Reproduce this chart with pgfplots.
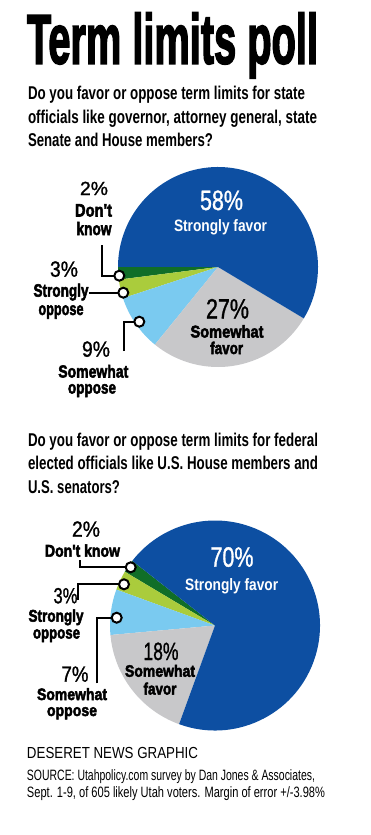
\documentclass[border=0pt]{standalone}
\usepackage{fontspec}
\setmainfont{Liberation Sans}
\newfontfamily\heavy[BoldFeatures={FakeBold=3}]{Liberation Sans}
\newfontfamily\med[FakeBold=1.2]{Liberation Sans}
\usepackage{graphicx}
\usepackage{pgfplots}
\usepackage{pgfplotstable}
\pgfplotsset{compat=1.18}

\definecolor{pieblue}{RGB}{13,79,162}
\definecolor{dkgreen}{RGB}{16,110,40}
\definecolor{ltgreen}{RGB}{170,204,60}
\definecolor{ltblue}{RGB}{122,202,240}
\definecolor{grayc}{RGB}{200,200,202}

% slices counter-clockwise, starting at the given angle
\pgfplotstableread{
pct col
2 dkgreen
3 ltgreen
9 ltblue
27 grayc
58 pieblue
}\pieA
\pgfplotstableread{
pct col
2 dkgreen
3 ltgreen
7 ltblue
18 grayc
70 pieblue
}\pieB

% builds (outside the axis) the list of slice commands in axis cs
\newcommand\buildpie[6]{% result macro, table, cx, cy, r, start angle
  \gdef#1{}%
  \pgfplotstablegetrowsof{#2}\pgfmathtruncatemacro\nr{\pgfplotsretval-1}%
  \def\tot{0}%
  \pgfplotsforeachungrouped \i in {0,...,\nr}{%
    \pgfplotstablegetelem{\i}{pct}\of#2%
    \pgfmathsetmacro\tot{\tot+\pgfplotsretval}}%
  \def\cur{#6}%
  \pgfplotsforeachungrouped \i in {0,...,\nr}{%
    \pgfplotstablegetelem{\i}{pct}\of#2\let\pval\pgfplotsretval
    \pgfplotstablegetelem{\i}{col}\of#2\let\pcol\pgfplotsretval
    \pgfmathsetmacro\nxt{\cur+\pval/\tot*360}%
    \xdef#1{\unexpanded\expandafter{#1}\noexpand\fill[\pcol] (axis cs:#3,#4) -- ++(\cur:#5pt) arc[start angle=\cur, end angle=\nxt, radius=#5pt] -- cycle;}%
    \let\cur\nxt}%
}
\buildpie{\pieAcmd}{\pieA}{218}{267}{100}{180}
\buildpie{\pieBcmd}{\pieB}{215}{625.5}{105}{142}

\newcommand\T[5]{\node[inner sep=0pt,outer sep=0pt,anchor=#3] at (axis cs:#1,#2) {\resizebox{#4}{\height}{#5}};}
\newcommand\fQ{\fontsize{18.5}{20}\selectfont\bfseries}
\newcommand\fH[1]{\heavy\bfseries\fontsize{#1}{#1}\selectfont}
\newcommand\fB[1]{\bfseries\fontsize{#1}{#1}\selectfont}
\newcommand\fM[1]{\med\mdseries\fontsize{#1}{#1}\selectfont}
\newcommand\fR[1]{\mdseries\fontsize{#1}{#1}\selectfont}
\newcommand\leader[3]{% path, circle x, circle y
  \draw[line width=2pt] #1;
  \draw[line width=2pt,fill=white] (axis cs:#2,#3) circle[radius=5pt];}

\begin{document}
\begin{tikzpicture}
\begin{axis}[width=370pt,height=835pt,scale only axis,
  xmin=0,xmax=370,ymin=0,ymax=835,y dir=reverse,hide axis,clip=false]
\path (rel axis cs:0,0) rectangle (rel axis cs:1,1);

% title and question 1
\T{27}{63.5}{base west}{291pt}{\fH{70}Term limits poll}
\T{28}{99.5}{base west}{277pt}{\fQ Do you favor or oppose term limits for state}
\T{28}{123}{base west}{289pt}{\fQ officials like governor, attorney general, state}
\T{28}{146.5}{base west}{185pt}{\fQ Senate and House members?}

% pie 1
\pieAcmd
\T{221.5}{210}{base}{43pt}{\color{white}\fM{28}58\%}
\T{220.5}{231}{base}{93pt}{\color{white}\fB{16.5}Strongly favor}
\T{227.5}{318.5}{base}{43pt}{\fM{28}27\%}
\T{227}{337.5}{base}{73pt}{\fH{17}Somewhat}
\T{226.7}{354}{base}{33pt}{\fH{17}favor}
\T{94}{195}{base}{28pt}{\fM{19}2\%}
\T{93.5}{216.5}{base}{37pt}{\fH{18}Don't}
\T{94}{235}{base}{35pt}{\fH{18}know}
\T{64}{276.7}{base}{28pt}{\fM{22}3\%}
\T{61}{296.7}{base}{55pt}{\fH{18}Strongly}
\T{61}{315}{base}{45pt}{\fH{18}oppose}
\T{96}{356.7}{base}{28pt}{\fM{22}9\%}
\T{93.3}{377.5}{base}{70pt}{\fH{17.5}Somewhat}
\T{92}{393.5}{base}{48pt}{\fH{17.5}oppose}
\leader{(axis cs:101.5,245) |- (axis cs:119.3,275.7)}{119.3}{275.7}
\leader{(axis cs:89,292.7) -- (axis cs:123.3,292.7)}{123.3}{292.7}
\leader{(axis cs:124,351) |- (axis cs:139.3,321.7)}{139.3}{321.7}

% question 2
\T{28}{446}{base west}{290pt}{\fQ Do you favor or oppose term limits for federal}
\T{28}{469.5}{base west}{290pt}{\fQ elected officials like U.S. House members and}
\T{28}{493}{base west}{92pt}{\fQ U.S. senators?}

% pie 2
\pieBcmd
\T{232}{566.7}{base}{43pt}{\color{white}\fM{28}70\%}
\T{231.7}{590}{base}{93pt}{\color{white}\fB{16.5}Strongly favor}
\T{161}{660}{base}{35pt}{\fM{25}18\%}
\T{160}{676.7}{base}{70pt}{\fH{16.5}Somewhat}
\T{160}{694.5}{base}{33pt}{\fH{16.5}favor}
\T{86}{536.7}{base}{28pt}{\fM{22}2\%}
\T{82.5}{556.7}{base}{75pt}{\fH{17}Don't know}
\T{65.5}{603.3}{base}{24pt}{\fM{22}3\%}
\T{56}{621.7}{base}{55pt}{\fH{17}Strongly}
\T{56.5}{638.5}{base}{47pt}{\fH{17}oppose}
\T{75}{681.7}{base}{27pt}{\fM{22}7\%}
\T{72}{700}{base}{70pt}{\fH{16.5}Somewhat}
\T{72}{716}{base}{50pt}{\fH{16.5}oppose}
\leader{(axis cs:80,560) |- (axis cs:130.7,567.3)}{130.7}{567.3}
\leader{(axis cs:78.3,600) |- (axis cs:124,584.3)}{124}{584.3}
\leader{(axis cs:97.3,683.3) |- (axis cs:116.7,617.7)}{116.7}{617.7}

% footer
\T{27}{758.5}{base west}{171pt}{\fR{16}DESERET NEWS GRAPHIC}
\T{27}{780.5}{base west}{288pt}{\fR{15}SOURCE: Utahpolicy.com survey by Dan Jones \& Associates,}
\T{27}{797.5}{base west}{298pt}{\fR{15}Sept. 1-9, of 605 likely Utah voters. Margin of error +/-3.98\%}
\end{axis}
\end{tikzpicture}
\end{document}
